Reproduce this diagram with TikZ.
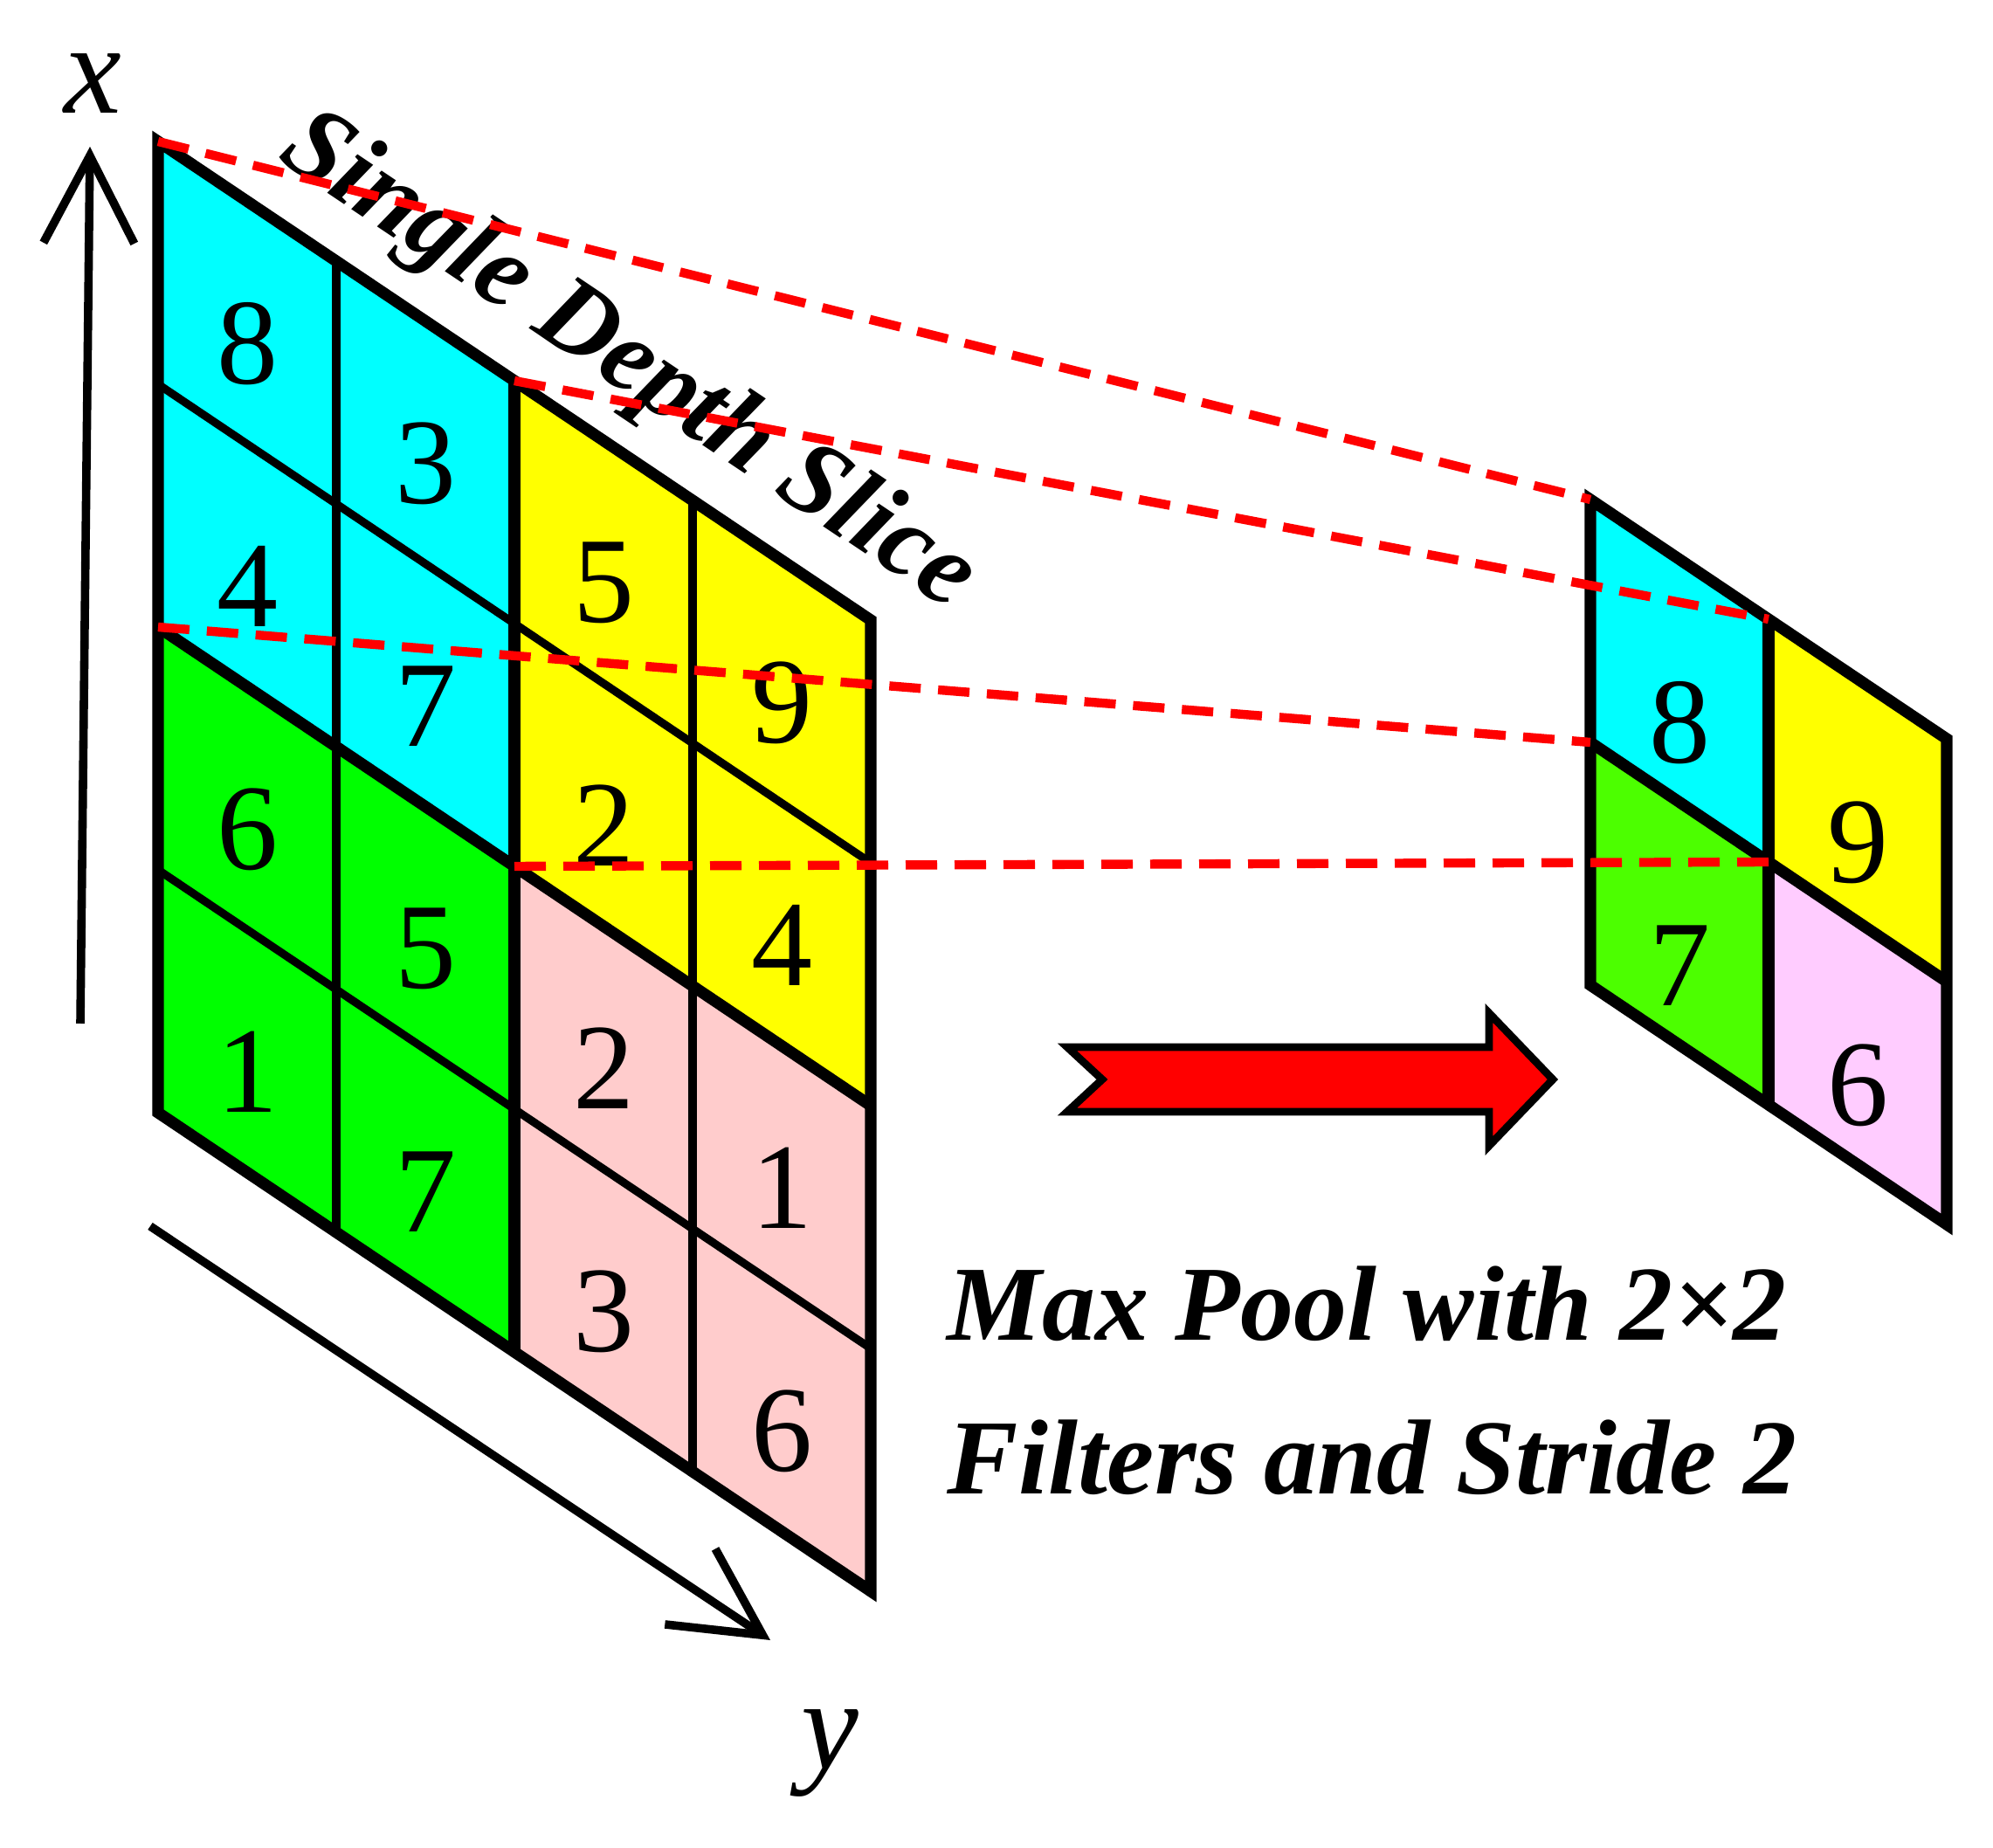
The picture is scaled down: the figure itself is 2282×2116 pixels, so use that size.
\documentclass[tikz,border=0pt]{standalone}
\usepackage{fontspec}
\setmainfont{Liberation Serif}
\usetikzlibrary{arrows.meta}
\definecolor{cyanc}{HTML}{00FFFF}
\definecolor{yellowc}{HTML}{FFFF00}
\definecolor{greenc}{HTML}{00FF00}
\definecolor{pinkc}{HTML}{FFCCCC}
\definecolor{greenr}{HTML}{4CFF00}
\definecolor{pinkr}{HTML}{FFCCFF}
\definecolor{redc}{HTML}{FF0000}
\begin{document}
\begin{tikzpicture}[x=0.25pt,y=-0.25pt,
  thinln/.style={line width=2.3pt},
  thickln/.style={line width=3.3pt},
  axisln/.style={line width=2.4pt,-{Straight Barb[length=25pt,width=26pt]}},
  dashln/.style={draw=redc,line width=2.6pt,dash pattern=on 9pt off 5pt},
  digit/.style={font=\fontsize{35}{35}\selectfont,inner sep=0pt},
  bilabel/.style={font=\fontsize{30.5}{30.5}\selectfont\bfseries\itshape,inner sep=0pt},
  axlabel/.style={font=\fontsize{37}{37}\selectfont\itshape,inner sep=0pt,anchor=base}]
\useasboundingbox (0,0) rectangle (2282,2116);
% grid points
\foreach \i in {0,...,4}{\foreach \j in {0,...,4}{\coordinate (L-\i-\j) at ({181+204*\i},{162+137*\i+278*\j});}}
\foreach \i in {0,1,2}{\foreach \j in {0,1,2}{\coordinate (R-\i-\j) at ({1821+204*\i},{572+137*\i+278*\j});}}
% left grid fills
\fill[cyanc] (L-0-0) -- (L-2-0) -- (L-2-2) -- (L-0-2) -- cycle;
\fill[yellowc] (L-2-0) -- (L-4-0) -- (L-4-2) -- (L-2-2) -- cycle;
\fill[greenc] (L-0-2) -- (L-2-2) -- (L-2-4) -- (L-0-4) -- cycle;
\fill[pinkc] (L-2-2) -- (L-4-2) -- (L-4-4) -- (L-2-4) -- cycle;
% left grid lines
\draw[thinln] (L-1-0) -- (L-1-4);
\draw[thinln] (L-3-0) -- (L-3-4);
\draw[thinln] (L-0-1) -- (L-4-1);
\draw[thinln] (L-0-3) -- (L-4-3);
\draw[thickln] (L-2-0) -- (L-2-4);
\draw[thickln] (L-0-2) -- (L-4-2);
\draw[thickln] (L-0-0) -- (L-4-0) -- (L-4-4) -- (L-0-4) -- cycle;
% right grid
\fill[cyanc] (R-0-0) -- (R-1-0) -- (R-1-1) -- (R-0-1) -- cycle;
\fill[yellowc] (R-1-0) -- (R-2-0) -- (R-2-1) -- (R-1-1) -- cycle;
\fill[greenr] (R-0-1) -- (R-1-1) -- (R-1-2) -- (R-0-2) -- cycle;
\fill[pinkr] (R-1-1) -- (R-2-1) -- (R-2-2) -- (R-1-2) -- cycle;
\draw[thickln] (R-1-0) -- (R-1-2);
\draw[thickln] (R-0-1) -- (R-2-1);
\draw[thickln] (R-0-0) -- (R-2-0) -- (R-2-2) -- (R-0-2) -- cycle;
% digits
\foreach \i/\j/\v in {0/0/8,1/0/3,2/0/5,3/0/9,0/1/4,1/1/7,2/1/2,3/1/4,0/2/6,1/2/5,2/2/2,3/2/1,0/3/1,1/3/7,2/3/3,3/3/6}
  \node[digit] (dL\i\j) at ({181+204*(\i+0.5)},{162+137*(\i+0.5)+278*(\j+0.5)+24}) {\v};
\foreach \i/\j/\v in {0/0/8,1/0/9,0/1/7,1/1/6}
  \node[digit] (dR\i\j) at ({1821+204*(\i+0.5)},{572+137*(\i+0.5)+278*(\j+0.5)+48}) {\v};
% axes
\coordinate (xa0) at (92,1172); \coordinate (xa1) at (103,168);
\draw[axisln] (xa0) -- (xa1);
\coordinate (ya0) at (172,1404); \coordinate (ya1) at (882,1878);
\draw[axisln] (ya0) -- (ya1);
\node[axlabel] (xl) at (106,130) {x};
\node[axlabel] (yl) at (950,2025) {y};
% red block arrow
\draw[line width=2.2pt,fill=redc,line join=miter] (1222,1199) -- (1705,1199) -- (1705,1160) -- (1778,1236) -- (1705,1312) -- (1705,1273) -- (1222,1273) -- (1262,1236) -- cycle;
% texts
\node[bilabel,rotate=-33.9] (slice) at (718,416) {Single Depth Slice};
\node[bilabel,anchor=base west] (mp1) at (1084,1535) {Max Pool with 2×2};
\node[bilabel,anchor=base west] (mp2) at (1084,1710) {Filters and Stride 2};
% dashed projection lines
\draw[dashln] (L-0-0) -- (R-0-0);
\draw[dashln] (L-2-0) -- (R-1-0);
\draw[dashln] (L-0-2) -- (R-0-1);
\draw[dashln] (L-2-2) -- (R-1-1);
\end{tikzpicture}
\end{document}
